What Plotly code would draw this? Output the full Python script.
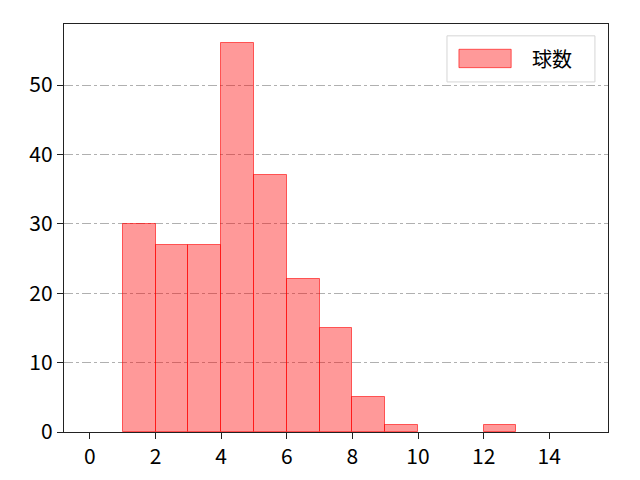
import plotly.graph_objects as go

# histogram of 球数 : bin left edges and counts
bin_left = [1, 2, 3, 4, 5, 6, 7, 8, 9, 12]
counts = [30, 27, 27, 56, 37, 22, 15, 5, 1, 1]
x_ticks = [0, 2, 4, 6, 8, 10, 12, 14]
y_ticks = [0, 10, 20, 30, 40, 50]
series_name = '球数'

centers = [b + 0.5 for b in bin_left]

fill = 'rgba(255,0,0,0.4)'
edge = 'rgba(255,0,0,0.6)'

fig = go.Figure()
fig.add_trace(go.Bar(
    x=centers,
    y=counts,
    width=1,
    name=series_name,
    showlegend=False,
    marker=dict(color=fill, line=dict(color=edge, width=1)),
))

# legend drawn by hand (matplotlib style: wide patch + text in a box)
fig.add_shape(type='rect', xref='paper', yref='paper',
              x0=0.704, x1=0.976, y0=0.858, y1=0.971,
              line=dict(color='#d5d5d5', width=1), fillcolor='white', layer='above')
fig.add_shape(type='rect', xref='paper', yref='paper',
              x0=0.726, x1=0.822, y0=0.893, y1=0.938,
              line=dict(color=edge, width=1), fillcolor=fill, layer='above')
fig.add_annotation(xref='paper', yref='paper', x=0.857, y=0.915,
                   xanchor='left', yanchor='middle',
                   text=series_name, showarrow=False,
                   font=dict(size=20, color='black'))

fig.update_layout(
    width=640, height=480,
    margin=dict(l=56, r=40, t=16, b=56),
    plot_bgcolor='white',
    paper_bgcolor='white',
    font=dict(family='Noto Sans CJK JP', size=21, color='black'),
    bargap=0,
)
fig.update_xaxes(range=[-0.79, 15.79], tickvals=x_ticks, showgrid=False,
                 ticks='outside', ticklen=6, tickwidth=1.2, tickcolor='#222',
                 showline=True, linecolor='#222', linewidth=1.4, mirror=True,
                 zeroline=False)
fig.update_yaxes(range=[0, 58.8], tickvals=y_ticks, showgrid=True,
                 gridcolor='#b0b0b0', gridwidth=0.8, griddash='dashdot',
                 ticks='outside', ticklen=6, tickwidth=1.2, tickcolor='#222',
                 showline=True, linecolor='#222', linewidth=1.4, mirror=True,
                 zeroline=False)

fig.write_html("out.html")
